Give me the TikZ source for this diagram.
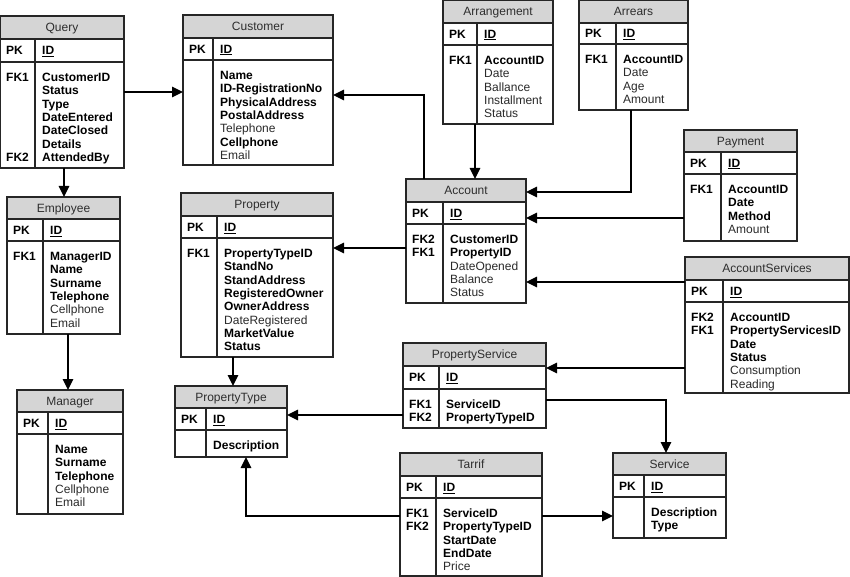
\documentclass[tikz,border=0pt]{standalone}
\usepackage{fontspec}
\setmainfont{Liberation Sans}
\usetikzlibrary{arrows.meta}
\definecolor{optc}{HTML}{2A2A2A}
\definecolor{hdrc}{HTML}{D5D5D5}
\definecolor{ttlc}{HTML}{2E2E2E}
\newcommand\fsz{\fontsize{12}{13.3}\selectfont}
\newcommand\ebf[1]{\textbf{#1}}
\newcommand\eop[1]{{\color{optc}#1}}
\tikzset{
  frame/.style={inner sep=0pt, outer sep=0pt, draw=none},
  bx/.style={draw=black!85, line width=1.1pt},
  ttl/.style={font=\fsz, text=ttlc, inner sep=0pt, anchor=base},
  pkl/.style={font=\fsz\bfseries, inner sep=0pt, anchor=base west},
  fld/.style={font=\fsz, align=left, inner sep=0pt, anchor=north west},
  arr/.style={draw=black, line width=1.3pt, -{Triangle[length=11pt,width=10.5pt]}}
}
% #1 name, #2 left, #3 top, #4 right, #5 bottom, #6 header bottom, #7 pk bottom, #8 divider x, #9 title
\newcommand\erbox[9]{%
  \node[frame, minimum width={(#4-#2)*1pt}, minimum height={(#5-#3)*1pt}, anchor=north west] (#1) at (#2,#3) {};
  \fill[hdrc] (#2,#3) rectangle (#4,#6);
  \draw[bx] (#2,#3) rectangle (#4,#5);
  \draw[bx] (#2,#6) -- (#4,#6) (#2,#7) -- (#4,#7) (#8,#6) -- (#8,#5);
  \node[ttl] (#1-title) at ({(#2+#4)/2},{(#3+#6)/2+4.3}) {#9};
  \node[pkl] (#1-pk) at (#2+6,{(#6+#7)/2+4.3}) {PK};
  \node[pkl] (#1-id) at (#8+7,{(#6+#7)/2+4.3}) {\underline{ID}};
}
% #1 name, #2 divider x, #3 pk bottom, #4 fields
\newcommand\erfields[4]{%
  \node[fld] (#1-fields) at (#2+7,#3+10) {\strut #4};
}
% #1 name, #2 left, #3 pk bottom, #4 fk labels
\newcommand\erfk[4]{%
  \node[fld, font=\fsz\bfseries] (#1-fk) at (#2+6,#3+10) {\strut #4};
}
\begin{document}
\begin{tikzpicture}[x=1pt,y=-1pt]
\useasboundingbox (0,0) rectangle (850,577);
\fill[white] (0,0) rectangle (850,577);

% tables
\erbox{query}{0}{16}{124}{168}{39}{62}{35}{Query}
\erfk{query}{0}{62}{FK1\\~\\~\\~\\~\\~\\FK2}
\erfields{query}{35}{62}{\ebf{CustomerID}\\\ebf{Status}\\\ebf{Type}\\\ebf{DateEntered}\\\ebf{DateClosed}\\\ebf{Details}\\\ebf{AttendedBy}}

\erbox{customer}{183}{15}{333}{165}{38}{60}{213}{Customer}
\erfields{customer}{213}{60}{\ebf{Name}\\\ebf{ID-RegistrationNo}\\\ebf{PhysicalAddress}\\\ebf{PostalAddress}\\\eop{Telephone}\\\ebf{Cellphone}\\\eop{Email}}

\erbox{arrangement}{443}{0}{553}{124}{23}{45}{477}{Arrangement}
\erfk{arrangement}{443}{45}{FK1}
\erfields{arrangement}{477}{45}{\ebf{AccountID}\\\eop{Date}\\\eop{Ballance}\\\eop{Installment}\\\eop{Status}}

\erbox{arrears}{579}{0}{688}{110}{23}{44}{616}{Arrears}
\erfk{arrears}{579}{44}{FK1}
\erfields{arrears}{616}{44}{\ebf{AccountID}\\\eop{Date}\\\eop{Age}\\\eop{Amount}}

\erbox{payment}{684}{130}{797}{241}{152}{174}{721}{Payment}
\erfk{payment}{684}{174}{FK1}
\erfields{payment}{721}{174}{\ebf{AccountID}\\\ebf{Date}\\\ebf{Method}\\\eop{Amount}}

\erbox{account}{406}{179}{526}{303}{202}{224}{443}{Account}
\erfk{account}{406}{224}{FK2\\FK1}
\erfields{account}{443}{224}{\ebf{CustomerID}\\\ebf{PropertyID}\\\eop{DateOpened}\\\eop{Balance}\\\eop{Status}}

\erbox{accountservices}{685}{257}{849}{393}{280}{302}{723}{AccountServices}
\erfk{accountservices}{685}{302}{FK2\\FK1}
\erfields{accountservices}{723}{302}{\ebf{AccountID}\\\ebf{PropertyServicesID}\\\ebf{Date}\\\ebf{Status}\\\eop{Consumption}\\\eop{Reading}}

\erbox{employee}{7}{197}{120}{334}{219}{241}{43}{Employee}
\erfk{employee}{7}{241}{FK1}
\erfields{employee}{43}{241}{\ebf{ManagerID}\\\ebf{Name}\\\ebf{Surname}\\\ebf{Telephone}\\\eop{Cellphone}\\\eop{Email}}

\erbox{property}{181}{193}{333}{357}{216}{238}{217}{Property}
\erfk{property}{181}{238}{FK1}
\erfields{property}{217}{238}{\ebf{PropertyTypeID}\\\ebf{StandNo}\\\ebf{StandAddress}\\\ebf{RegisteredOwner}\\\ebf{OwnerAddress}\\\eop{DateRegistered}\\\ebf{MarketValue}\\\ebf{Status}}

\erbox{manager}{17}{390}{123}{514}{412}{434}{48}{Manager}
\erfields{manager}{48}{434}{\ebf{Name}\\\ebf{Surname}\\\ebf{Telephone}\\\eop{Cellphone}\\\eop{Email}}

\erbox{propertytype}{175}{386}{287}{457}{408}{430}{206}{PropertyType}
\erfields{propertytype}{206}{430}{\ebf{Description}}

\erbox{propertyservice}{403}{343}{546}{428}{366}{389}{439}{PropertyService}
\erfk{propertyservice}{403}{389}{FK1\\FK2}
\erfields{propertyservice}{439}{389}{\ebf{ServiceID}\\\ebf{PropertyTypeID}}

\erbox{tarrif}{400}{453}{542}{576}{476}{498}{436}{Tarrif}
\erfk{tarrif}{400}{498}{FK1\\FK2}
\erfields{tarrif}{436}{498}{\ebf{ServiceID}\\\ebf{PropertyTypeID}\\\ebf{StartDate}\\\ebf{EndDate}\\\eop{Price}}

\erbox{service}{613}{453}{726}{538}{475}{497}{644}{Service}
\erfields{service}{644}{497}{\ebf{Description}\\\ebf{Type}}

% connectors
\draw[arr] (query.east |- 0,92) -- (customer.west |- 0,92);
\draw[arr] (query.south -| 64,0) -- (employee.north -| 64,0);
\draw[arr] (employee.south -| 68,0) -- (manager.north -| 68,0);
\draw[arr] (account.north -| 424,0) |- (customer.east |- 0,95);
\draw[arr] (arrangement.south -| 475,0) -- (account.north -| 475,0);
\draw[arr] (arrears.south -| 631,0) |- (account.east |- 0,192);
\draw[arr] (payment.west |- 0,218) -- (account.east |- 0,218);
\draw[arr] (accountservices.west |- 0,282) -- (account.east |- 0,282);
\draw[arr] (account.west |- 0,248) -- (property.east |- 0,248);
\draw[arr] (accountservices.west |- 0,368) -- (propertyservice.east |- 0,368);
\draw[arr] (propertyservice.west |- 0,415) -- (propertytype.east |- 0,415);
\draw[arr] (propertyservice.east |- 0,400) -| (service.north -| 666,0);
\draw[arr] (tarrif.east |- 0,516) -- (service.west |- 0,516);
\draw[arr] (tarrif.west |- 0,516) -| (propertytype.south -| 246,0);
\draw[arr] (property.south -| 233,0) -- (propertytype.north -| 233,0);
\end{tikzpicture}
\end{document}
